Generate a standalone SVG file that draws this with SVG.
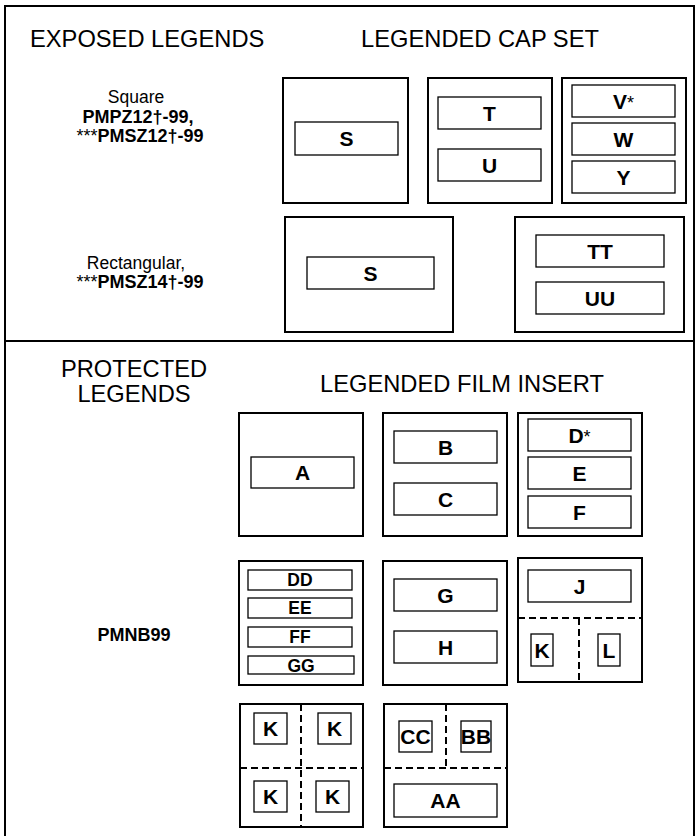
<svg xmlns="http://www.w3.org/2000/svg" width="699" height="836" viewBox="0 0 699 836">
<style>
.o{fill:none;stroke:#000;stroke-width:2}
.i{fill:none;stroke:#000;stroke-width:1.3}
.d{fill:none;stroke:#000;stroke-width:2;stroke-dasharray:7 4}
text{font-family:"Liberation Sans",Arial,Helvetica,sans-serif;fill:#000}
.h{font-size:23.7px}
.hc{font-size:23.7px;text-anchor:middle}
.s{font-size:17.5px;text-anchor:middle}
.sb{font-size:18px;font-weight:bold;text-anchor:middle}
.l{font-size:21px;font-weight:bold;text-anchor:middle}
.ls{font-size:17.5px;font-weight:bold;text-anchor:middle}
.ast{font-weight:normal;font-size:18px}
.astr{font-weight:normal}
</style>
<rect width="699" height="836" fill="#fff"/>
<g id="frame">
<rect class="o" x="5" y="6" width="689" height="840"/>
<line class="o" x1="5" y1="341" x2="694" y2="341"/>
</g>
<g id="headings">
<text class="h" x="30" y="47">EXPOSED LEGENDS</text>
<text class="hc" x="480" y="47">LEGENDED CAP SET</text>
<text class="s" x="136" y="103">Square</text>
<text class="sb" x="138" y="123">PMPZ12†-99,</text>
<text class="sb" x="140" y="142"><tspan class="astr">***</tspan>PMSZ12†-99</text>
<text class="s" x="136" y="269">Rectangular,</text>
<text class="sb" x="140" y="288"><tspan class="astr">***</tspan>PMSZ14†-99</text>
<text class="hc" x="134" y="377">PROTECTED</text>
<text class="hc" x="134" y="402">LEGENDS</text>
<text class="hc" x="462" y="392">LEGENDED FILM INSERT</text>
<text class="sb" x="134" y="641">PMNB99</text>
</g>
<g id="cap-square-s">
<rect class="o" x="283" y="78" width="125" height="125"/>
<rect class="i" x="295" y="122" width="103" height="33"/>
<text class="l" x="346.5" y="146">S</text>
</g>
<g id="cap-square-tu">
<rect class="o" x="428" y="78" width="124" height="125"/>
<rect class="i" x="438" y="97" width="103" height="32"/>
<text class="l" x="489.5" y="120.5">T</text>
<rect class="i" x="438" y="149" width="103" height="32"/>
<text class="l" x="489.5" y="172.5">U</text>
</g>
<g id="cap-square-vwy">
<rect class="o" x="562" y="78" width="124" height="125"/>
<rect class="i" x="572" y="85" width="103" height="32"/>
<text class="l" x="623.5" y="108.5">V<tspan class="ast">*</tspan></text>
<rect class="i" x="572" y="123" width="103" height="32"/>
<text class="l" x="623.5" y="146.5">W</text>
<rect class="i" x="572" y="161" width="103" height="32"/>
<text class="l" x="623.5" y="184.5">Y</text>
</g>
<g id="cap-rect-s">
<rect class="o" x="285" y="217" width="168" height="115"/>
<rect class="i" x="307" y="257" width="127" height="32"/>
<text class="l" x="370.5" y="280.5">S</text>
</g>
<g id="cap-rect-ttuu">
<rect class="o" x="515" y="217" width="169" height="115"/>
<rect class="i" x="536" y="235" width="128" height="32"/>
<text class="l" x="600" y="258.5">TT</text>
<rect class="i" x="536" y="282" width="128" height="32"/>
<text class="l" x="600" y="305.5">UU</text>
</g>
<g id="film-a">
<rect class="o" x="239" y="413" width="124" height="123"/>
<rect class="i" x="251" y="457" width="103" height="31"/>
<text class="l" x="302.5" y="480">A</text>
</g>
<g id="film-bc">
<rect class="o" x="383" y="413" width="124" height="123"/>
<rect class="i" x="394" y="431" width="103" height="32"/>
<text class="l" x="445.5" y="454.5">B</text>
<rect class="i" x="394" y="483" width="103" height="32"/>
<text class="l" x="445.5" y="506.5">C</text>
</g>
<g id="film-def">
<rect class="o" x="518" y="413" width="124" height="123"/>
<rect class="i" x="528" y="419" width="103" height="32"/>
<text class="l" x="579.5" y="442.5">D<tspan class="ast">*</tspan></text>
<rect class="i" x="528" y="457" width="103" height="32"/>
<text class="l" x="579.5" y="480.5">E</text>
<rect class="i" x="528" y="496" width="103" height="32"/>
<text class="l" x="579.5" y="519.5">F</text>
</g>
<g id="film-ddgg">
<rect class="o" x="239" y="561" width="124" height="124"/>
<rect class="i" x="248" y="570" width="104" height="20"/>
<text class="ls" x="300" y="586">DD</text>
<rect class="i" x="248" y="598" width="104" height="20"/>
<text class="ls" x="300" y="614">EE</text>
<rect class="i" x="248" y="627" width="104" height="20"/>
<text class="ls" x="300" y="643">FF</text>
<rect class="i" x="248" y="656" width="106" height="18"/>
<text class="ls" x="301" y="671.5">GG</text>
</g>
<g id="film-gh">
<rect class="o" x="383" y="561" width="124" height="124"/>
<rect class="i" x="394" y="579" width="103" height="32"/>
<text class="l" x="445.5" y="602.5">G</text>
<rect class="i" x="394" y="631" width="103" height="32"/>
<text class="l" x="445.5" y="654.5">H</text>
</g>
<g id="film-jkl">
<rect class="o" x="518" y="558" width="124" height="124"/>
<rect class="i" x="528" y="570" width="103" height="32"/>
<text class="l" x="579.5" y="593.5">J</text>
<line class="d" x1="518" y1="618" x2="642" y2="618"/>
<line class="d" x1="579" y1="618" x2="579" y2="682"/>
<rect class="i" x="531" y="634" width="22" height="32"/>
<text class="l" x="542" y="657.5">K</text>
<rect class="i" x="598" y="634" width="22" height="32"/>
<text class="l" x="609" y="657.5">L</text>
</g>
<g id="film-kkkk">
<rect class="o" x="240" y="704" width="123" height="123"/>
<line class="d" x1="301" y1="704" x2="301" y2="827"/>
<line class="d" x1="240" y1="768" x2="363" y2="768"/>
<rect class="i" x="254" y="713" width="33" height="31"/>
<text class="l" x="270.5" y="736">K</text>
<rect class="i" x="318" y="713" width="33" height="31"/>
<text class="l" x="334.5" y="736">K</text>
<rect class="i" x="254" y="781" width="33" height="31"/>
<text class="l" x="270.5" y="804">K</text>
<rect class="i" x="316" y="781" width="33" height="31"/>
<text class="l" x="332.5" y="804">K</text>
</g>
<g id="film-ccbbaa">
<rect class="o" x="384" y="704" width="123" height="123"/>
<line class="d" x1="446" y1="704" x2="446" y2="768"/>
<line class="d" x1="384" y1="768" x2="507" y2="768"/>
<rect class="i" x="399" y="721" width="33" height="31"/>
<text class="l" x="415.5" y="744">CC</text>
<rect class="i" x="461" y="721" width="30" height="31"/>
<text class="l" x="476" y="744">BB</text>
<rect class="i" x="394" y="784" width="103" height="33"/>
<text class="l" x="445.5" y="808">AA</text>
</g>
<g id="connectors"/>
</svg>
